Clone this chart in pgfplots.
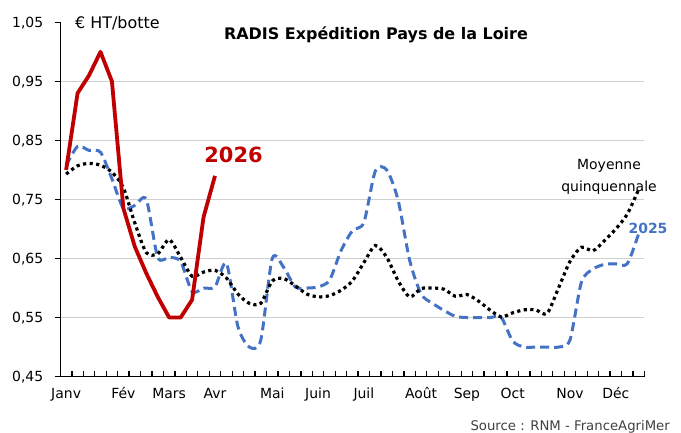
\documentclass[border=0pt]{standalone}
\usepackage{fontspec}
\setmainfont{DejaVu Sans}
\usepackage{pgfplots}
\usepackage{pgfplotstable}
\pgfplotsset{compat=1.18}
\definecolor{RedLine}{HTML}{C00000}
\definecolor{BlueLine}{HTML}{4472C4}
\definecolor{GridGray}{HTML}{D0D0D0}
\definecolor{SrcGray}{HTML}{404040}

% weekly prices, EUR HT per bunch
\pgfplotstableread{
w blue avg
1 0.807 0.793
2 0.840 0.807
3 0.833 0.811
4 0.830 0.808
5 0.785 0.796
6 0.735 0.770
7 0.740 0.710
8 0.750 0.660
9 0.652 0.658
10 0.652 0.682
11 0.645 0.652
12 0.594 0.620
13 0.600 0.627
14 0.602 0.630
15 0.642 0.617
16 0.535 0.590
17 0.500 0.574
18 0.512 0.574
19 0.650 0.612
20 0.635 0.616
21 0.602 0.604
22 0.600 0.590
23 0.602 0.585
24 0.613 0.587
25 0.663 0.596
26 0.697 0.612
27 0.711 0.643
28 0.798 0.672
29 0.800 0.652
30 0.748 0.612
31 0.647 0.585
32 0.590 0.599
33 0.574 0.600
34 0.562 0.598
35 0.552 0.586
36 0.550 0.589
37 0.550 0.578
38 0.550 0.563
39 0.550 0.551
40 0.510 0.558
41 0.500 0.563
42 0.500 0.563
43 0.500 0.557
44 0.500 0.600
45 0.512 0.645
46 0.610 0.669
47 0.632 0.663
48 0.640 0.680
49 0.641 0.700
50 0.641 0.725
51 0.692 0.767
}\mainT

\pgfplotstableread{
w v
1 0.80
2 0.93
3 0.96
4 1.00
5 0.95
6 0.735
7 0.67
8 0.625
9 0.585
10 0.55
11 0.55
12 0.58
13 0.72
14 0.79
}\redT

\begin{document}
\begin{tikzpicture}
\path[use as bounding box] (0,0) rectangle (681bp,433bp);
\begin{axis}[
  at={(60.4bp,56.4bp)}, anchor=south west,
  scale only axis, width=584bp, height=354.3bp,
  xmin=0.5, xmax=51.5, ymin=0.45, ymax=1.05,
  axis x line*=bottom, axis y line*=left,
  axis line style={line width=1.3bp, black},
  major tick length=0pt,
  xtick={1,6,10,14,19,23,27,32,36,40,45,49},
  xticklabels={Janv,Fév,Mars,Avr,Mai,Juin,Juil,Août,Sep,Oct,Nov,Déc},
  ytick={0.45,0.55,0.65,0.75,0.85,0.95},
  extra y ticks={1.05}, extra y tick style={grid=none},
  ymajorgrids, grid style={GridGray, line width=0.9bp},
  /pgf/number format/assume math mode=true,
  /pgf/number format/fixed,
  /pgf/number format/fixed zerofill,
  /pgf/number format/precision=2,
  /pgf/number format/use comma,
  every tick label/.append style={font=\fontsize{14}{16}\selectfont, text=black},
  yticklabel style={anchor=base east, inner sep=0pt, xshift=-17bp, yshift=-5bp},
  xticklabel style={anchor=base, inner sep=0pt, yshift=-22bp},
  clip=false,
]
\addplot[BlueLine, line width=3bp, dash pattern=on 9bp off 5bp, smooth, tension=0.45, mark=none] table[x=w,y=blue]{\mainT};
\addplot[black, line width=3.2bp, dash pattern=on 3.2bp off 3.4bp, smooth, tension=0.45, mark=none] table[x=w,y=avg]{\mainT};
\addplot[RedLine, line width=3.8bp, line join=round, mark=none] table[x=w,y=v]{\redT};
\end{axis}
% tick marks: week boundaries point up into the plot, price steps point out
\foreach \k in {0,...,51}
  \draw[black, line width=1.3bp] ({60.4bp+\k*11.451bp},56.4bp) -- ++(0,5.5bp);
\foreach \k in {0,...,6}
  \draw[black, line width=1.3bp] (60.4bp,{56.4bp+\k*59.05bp}) -- ++(-5.5bp,0);
\node[anchor=base west, inner sep=0pt, font=\fontsize{16}{19}\selectfont] at (75bp,404.7bp) {€ HT/botte};
\node[anchor=base, inner sep=0pt, font=\bfseries\fontsize{16}{19}\selectfont] at (376bp,393.7bp) {RADIS Expédition Pays de la Loire};
\node[anchor=base, inner sep=0pt, text=RedLine, font=\bfseries\fontsize{21}{25}\selectfont] at (233.5bp,270bp) {2026};
\node[anchor=base, inner sep=0pt, font=\fontsize{14}{16}\selectfont] at (609bp,263.7bp) {Moyenne};
\node[anchor=base, inner sep=0pt, font=\fontsize{14}{16}\selectfont] at (609bp,241.3bp) {quinquennale};
\node[anchor=base, inner sep=0pt, text=BlueLine, font=\bfseries\fontsize{14}{16}\selectfont] at (648bp,199.7bp) {2025};
\node[anchor=base east, inner sep=0pt, text=SrcGray, font=\fontsize{13.3}{15}\selectfont] at (670bp,3bp) {Source : RNM - FranceAgriMer};
\end{tikzpicture}
\end{document}
